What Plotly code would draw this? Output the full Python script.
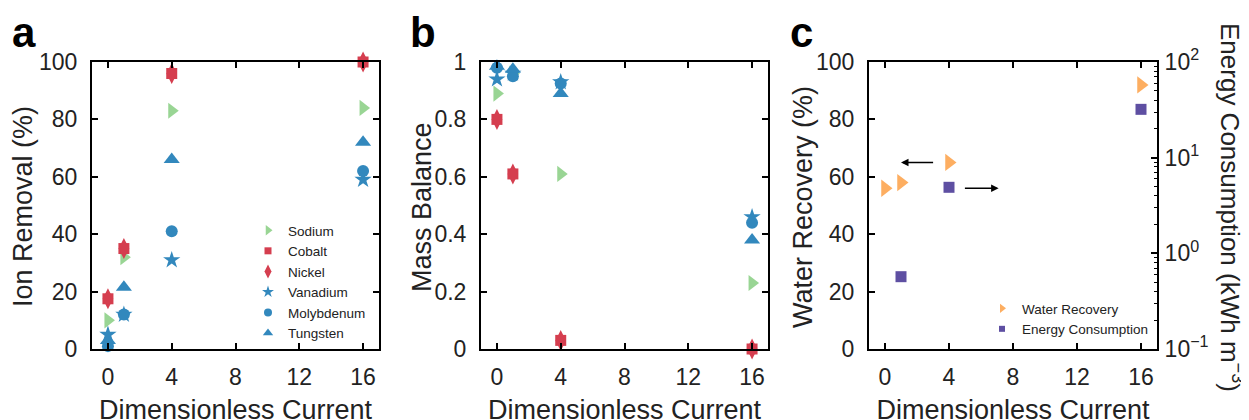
import plotly.graph_objects as go

W, H = 1249, 420
OFF = 8  # the page body adds an 8px margin around the figure

# dimensionless current for every measurement
current = [0, 1, 4, 16]

# panel a - ion removal (%)
removal_sodium = [10, 32, 83, 84]
removal_cobalt = [17.5, 35, 96, 100]
removal_nickel = [17.5, 35, 96, 100]
removal_vanadium = [5, 12, 31, 59]
removal_molybdenum = [1, 12, 41, 62]
removal_tungsten = [3, 21.5, 66, 72]

# panel b - mass balance
balance_sodium = [0.89, 0.96, 0.61, 0.23]
balance_cobalt = [0.80, 0.61, 0.03, 0.0]
balance_nickel = [0.80, 0.61, 0.03, 0.0]
balance_vanadium = [0.94, 0.96, 0.93, 0.46]
balance_molybdenum = [0.98, 0.95, 0.925, 0.44]
balance_tungsten = [0.985, 0.975, 0.89, 0.38]

# panel c - water recovery (%) and energy consumption (kWh m-3)
water_recovery = [56, 58, 65, 92]
energy_current = [1, 4, 16]
energy_consumption = [0.57, 4.9, 32]

ion_names = ["Sodium", "Cobalt", "Nickel", "Vanadium", "Molybdenum", "Tungsten"]

GREEN = "#99d594"
RED = "#d53e4f"
BLUE = "#3288bd"
ORANGE = "#fdae61"
PURPLE = "#5e4fa2"
TEXT = "#222222"
FONT = "Liberation Sans, Arial, sans-serif"

ion_style = {
    "Sodium": dict(color=GREEN, symbol="triangle-right", size=14),
    "Cobalt": dict(color=RED, symbol="square", size=11),
    "Nickel": dict(color=RED, symbol="diamond-tall", size=15),
    "Vanadium": dict(color=BLUE, symbol="star", size=13),
    "Molybdenum": dict(color=BLUE, symbol="circle", size=12),
    "Tungsten": dict(color=BLUE, symbol="triangle-up", size=14),
}
legend_size = {"Sodium": 9, "Cobalt": 7, "Nickel": 10, "Vanadium": 9, "Molybdenum": 8, "Tungsten": 9}

removal = [removal_sodium, removal_cobalt, removal_nickel,
           removal_vanadium, removal_molybdenum, removal_tungsten]
balance = [balance_sodium, balance_cobalt, balance_nickel,
           balance_vanadium, balance_molybdenum, balance_tungsten]


def px(x):
    return (x - OFF) / W


def py(y):
    return 1 - (y - OFF) / H


fig = go.Figure()

for name, vals in zip(ion_names, removal):
    st = ion_style[name]
    fig.add_trace(go.Scatter(x=current, y=vals, mode="markers", name=name, showlegend=False,
                             marker=dict(color=st["color"], symbol=st["symbol"], size=st["size"]),
                             cliponaxis=False, xaxis="x", yaxis="y"))

# small legend-only markers, as in the original
for name in ion_names:
    st = ion_style[name]
    fig.add_trace(go.Scatter(x=[None], y=[None], mode="markers", name=name, legend="legend",
                             marker=dict(color=st["color"], symbol=st["symbol"], size=legend_size[name]),
                             xaxis="x", yaxis="y"))

for name, vals in zip(ion_names, balance):
    st = ion_style[name]
    fig.add_trace(go.Scatter(x=current, y=vals, mode="markers", name=name, showlegend=False,
                             marker=dict(color=st["color"], symbol=st["symbol"], size=st["size"]),
                             cliponaxis=False, xaxis="x2", yaxis="y2"))

fig.add_trace(go.Scatter(x=current, y=water_recovery, mode="markers", name="Water Recovery",
                         showlegend=False, cliponaxis=False,
                         marker=dict(color=ORANGE, symbol="triangle-right", size=15),
                         xaxis="x3", yaxis="y3"))
fig.add_trace(go.Scatter(x=energy_current, y=energy_consumption, mode="markers",
                         name="Energy Consumption", showlegend=False, cliponaxis=False,
                         marker=dict(color=PURPLE, symbol="square", size=11),
                         xaxis="x3", yaxis="y4"))
fig.add_trace(go.Scatter(x=[None], y=[None], mode="markers", name="Water Recovery", legend="legend2",
                         marker=dict(color=ORANGE, symbol="triangle-right", size=8),
                         xaxis="x3", yaxis="y3"))
fig.add_trace(go.Scatter(x=[None], y=[None], mode="markers", name="Energy Consumption", legend="legend2",
                         marker=dict(color=PURPLE, symbol="square", size=6),
                         xaxis="x3", yaxis="y3"))

x_common = dict(range=[-1, 17], tickvals=[0, 4, 8, 12, 16], ticks="inside", ticklen=6,
                tickwidth=1.5, tickcolor="black", showline=True, linecolor="black", linewidth=2,
                mirror="ticks", showgrid=False, zeroline=False, automargin=False,
                tickfont=dict(size=23, color=TEXT), ticklabelstandoff=6,
                title=dict(text="Dimensionless Current", font=dict(size=27, color=TEXT), standoff=12))
y_common = dict(ticks="inside", ticklen=6, tickwidth=1.5, tickcolor="black", showline=True,
                linecolor="black", linewidth=2, mirror="ticks", showgrid=False, zeroline=False,
                automargin=False, tickfont=dict(size=23, color=TEXT), ticklabelstandoff=8)

y_dom = [py(349), py(62)]

fig.update_layout(
    width=W, height=H,
    margin=dict(l=0, r=0, t=0, b=0),
    paper_bgcolor="white", plot_bgcolor="white",
    font=dict(family=FONT, color=TEXT),
    xaxis=dict(x_common, domain=[px(92), px(379)], anchor="y"),
    yaxis=dict(y_common, domain=y_dom, anchor="x", range=[0, 100], tickvals=[0, 20, 40, 60, 80, 100]),
    xaxis2=dict(x_common, domain=[px(481), px(768)], anchor="y2"),
    yaxis2=dict(y_common, domain=y_dom, anchor="x2", range=[0, 1],
                tickvals=[0, 0.2, 0.4, 0.6, 0.8, 1], ticktext=["0", "0.2", "0.4", "0.6", "0.8", "1"]),
    xaxis3=dict(x_common, domain=[px(869), px(1157)], anchor="y3"),
    yaxis3=dict(y_common, domain=y_dom, anchor="x3", range=[0, 100], mirror=False,
                tickvals=[0, 20, 40, 60, 80, 100]),
    yaxis4=dict(y_common, overlaying="y3", anchor="x3", side="right", type="log", range=[-1, 2],
                mirror=False, tickvals=[0.1, 1, 10, 100], ticklabelstandoff=1,
                ticktext=["10<sup>−1</sup>", "10<sup>0</sup>", "10<sup>1</sup>", "10<sup>2</sup>"],
                minor=dict(ticks="inside", ticklen=3, tickwidth=1, tickcolor="black",
                           tickvals=[m * 10 ** e for e in (-1, 0, 1) for m in range(2, 10)])),
    legend=dict(x=px(248), y=py(215), xanchor="left", yanchor="top", bgcolor="rgba(0,0,0,0)",
                font=dict(size=13.5, color=TEXT), tracegroupgap=0),
    legend2=dict(x=px(982), y=py(293), xanchor="left", yanchor="top", bgcolor="rgba(0,0,0,0)",
                 font=dict(size=13.5, color=TEXT), tracegroupgap=0),
)

# direction arrows in panel c
fig.add_annotation(x=1.0, y=65, ax=3.1, ay=65, xref="x3", yref="y3", axref="x3", ayref="y3",
                   text="", showarrow=True, arrowhead=2, arrowsize=1, arrowwidth=1.5,
                   arrowcolor="black")
fig.add_annotation(x=7.1, y=56, ax=4.9, ay=56, xref="x3", yref="y3", axref="x3", ayref="y3",
                   text="", showarrow=True, arrowhead=2, arrowsize=1, arrowwidth=1.5,
                   arrowcolor="black")

# y axis titles
for label, xc, angle, size in [("Ion Removal (%)", 23, -90, 27), ("Mass Balance", 422, -90, 27),
                               ("Water Recovery (%)", 803, -90, 27),
                               ("Energy Consumption (kWh m<sup>−3</sup>)", 1232, 90, 26)]:
    fig.add_annotation(x=px(xc), y=py(207), xref="paper", yref="paper", xanchor="center",
                       yanchor="middle", showarrow=False, text=label, textangle=angle,
                       font=dict(size=size, color=TEXT))

for letter, xpos in [("a", 10), ("b", 408), ("c", 788)]:
    fig.add_annotation(x=px(xpos), y=py(58), xref="paper", yref="paper", xanchor="left",
                       yanchor="bottom", showarrow=False, text="<b>%s</b>" % letter,
                       font=dict(size=42, color="black"))

fig.write_html("out.html")
